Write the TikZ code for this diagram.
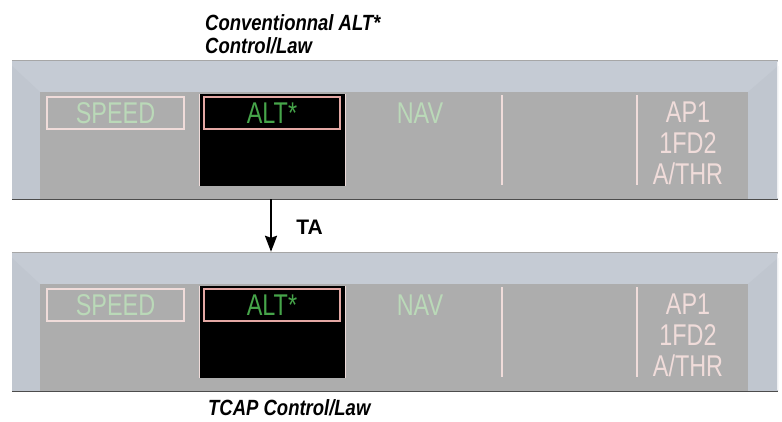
\documentclass[tikz,border=0pt]{standalone}
\usepackage{fontspec}
\setmainfont{Liberation Sans}
\newfontfamily\fcufont[FakeStretch=0.78]{Liberation Sans}
\newfontfamily\lawfont[FakeStretch=0.84]{Liberation Sans}
\usetikzlibrary{arrows.meta,positioning}

\definecolor{bezelgrey}{HTML}{C5CBD4}
\definecolor{bezelshade}{HTML}{C0C6CF}
\definecolor{screengrey}{HTML}{ADADAD}
\definecolor{pinkwhite}{HTML}{F0DCDA}
\definecolor{palegreen}{HTML}{BAD9B8}
\definecolor{altgreen}{HTML}{46A54A}
\definecolor{altframe}{HTML}{E4A8A4}

\tikzset{
  panel/.style={fill=bezelgrey, minimum width=766, minimum height=139, inner sep=0pt},
  screen/.style={fill=screengrey, minimum width=708, minimum height=107, inner sep=0pt},
  fcu/.style={font=\fcufont\fontsize{30}{31}\selectfont, inner sep=0pt},
  modebox/.style={fcu, draw=pinkwhite, line width=2pt, minimum width=137, minimum height=32, text=palegreen},
  altbox/.style={fcu, draw=altframe, line width=1.5pt, fill=black, minimum width=136, minimum height=32, text=altgreen},
  well/.style={fill=black, minimum width=145, minimum height=92, inner sep=0pt},
  sep/.style={pinkwhite, line width=1.5pt},
  law/.style={font=\lawfont\bfseries\itshape\fontsize{22}{23}\selectfont, inner sep=0pt, align=left},
  tarrow/.style={line width=2.2pt, -{Stealth[length=16pt,width=12pt,inset=2pt]}}
}

\begin{document}
\begin{tikzpicture}[x=1pt, y=-1pt]
  \useasboundingbox (0,0) rectangle (782,421);

  % the two FCU panels
  \foreach \p/\oy in {a/0,b/192}{
    \begin{scope}[shift={(0,\oy)}]
      \node[panel] (panel\p) at (395,129.5) {};
      \fill[bezelshade] (12,66) -- (40,92) -- (40,199) -- (12,199) -- cycle;
      \fill[bezelshade] (778,66) -- (748,92) -- (748,199) -- (778,199) -- cycle;
      \node[screen] (screen\p) at (394,145.5) {};
      \draw[gray!70, line width=0.6pt] (panel\p.north west) -- (panel\p.north east);
      \draw[black!70, line width=1.2pt] (panel\p.south west) -- (panel\p.south east);
      \draw[white!70!bezelgrey, line width=1pt] (777,62) -- (777,198);

      \node[modebox] (speed\p) at (115.5,113) {SPEED};
      \node[well] (well\p) at (272.5,140) {};
      \draw[pinkwhite, line width=1pt] (well\p.north west) -- (well\p.south west);
      \draw[pinkwhite, line width=1pt] (well\p.north east) -- (well\p.south east);
      \node[altbox] (alt\p) at (272,113) {ALT*};
      \node[fcu, text=palegreen] (nav\p) at (420,113) {NAV};
      \draw[sep] (502,95) -- (502,185);
      \draw[sep] (637,95) -- (637,185);
      \node[fcu, text=pinkwhite, align=center] (ap\p) at (688,143.5) {AP1\\1FD2\\A/THR};
    \end{scope}
  }

  % labels
  \node[law, anchor=north west] (conv) at (205,14) {Conventionnal ALT*\\Control/Law};
  \node[law, anchor=base west] (tcap) at (208,415) {TCAP Control/Law};

  % transition
  \node[font=\bfseries\fontsize{21}{21}\selectfont, inner sep=0pt] (ta) at (309.5,227) {TA};
  \draw[tarrow] (panela.south -| 271,0) -- (panelb.north -| 271,0);
\end{tikzpicture}
\end{document}
